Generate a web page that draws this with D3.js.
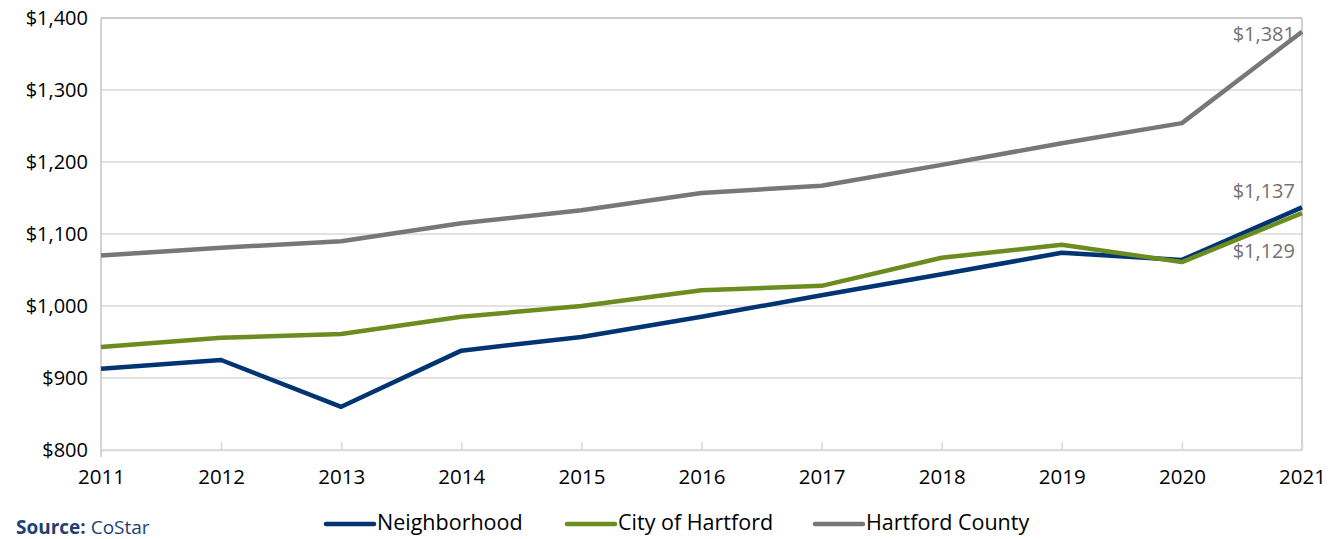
<!DOCTYPE html>
<html>
<head>
<meta charset="utf-8">
<script src="https://cdn.jsdelivr.net/npm/d3@7"></script>
<style>
  html, body { margin: 0; padding: 0; background: #fff; }
  svg { display: block; font-family: "Open Sans", "Noto Sans", sans-serif; }
</style>
</head>
<body>
<svg id="chart" width="1336" height="539"></svg>
<script>
// Average asking rent by year
const years = [2011, 2012, 2013, 2014, 2015, 2016, 2017, 2018, 2019, 2020, 2021];
const neighborhood = [913, 925, 860, 938, 957, 985, 1015, 1044, 1074, 1064, 1137];
const cityOfHartford = [943, 956, 961, 985, 1000, 1022, 1028, 1067, 1085, 1061, 1129];
const hartfordCounty = [1070, 1081, 1090, 1115, 1133, 1157, 1167, 1196, 1226, 1254, 1381];
const yTicks = [800, 900, 1000, 1100, 1200, 1300, 1400];

const seriesList = [
  { name: "Neighborhood", values: neighborhood, color: "#003473" },
  { name: "City of Hartford", values: cityOfHartford, color: "#6B8C1E" },
  { name: "Hartford County", values: hartfordCounty, color: "#7A7677" }
];

const svg = d3.select("#chart");
const margin = { left: 101, right: 34, top: 18, bottom: 89 };
const W = 1336, H = 539;
const x = d3.scaleLinear().domain([2011, 2021]).range([margin.left, W - margin.right]);
const y = d3.scaleLinear().domain([800, 1400]).range([H - margin.bottom, margin.top]);
const money = d3.format("$,");

// horizontal gridlines
svg.append("g")
  .selectAll("line")
  .data(yTicks)
  .join("line")
  .attr("x1", x(2011)).attr("x2", x(2021))
  .attr("y1", d => y(d)).attr("y2", d => y(d))
  .attr("stroke", "#d9d9d9").attr("stroke-width", 1.5);

// plot frame: top, right, left
svg.append("line").attr("x1", x(2011)).attr("x2", x(2021)).attr("y1", y(1400)).attr("y2", y(1400))
  .attr("stroke", "#c4c4c4").attr("stroke-width", 1.5);
svg.append("line").attr("x1", x(2021)).attr("x2", x(2021)).attr("y1", y(1400)).attr("y2", y(800))
  .attr("stroke", "#c4c4c4").attr("stroke-width", 1.5);
svg.append("line").attr("x1", x(2011)).attr("x2", x(2011)).attr("y1", y(1400)).attr("y2", y(800) + 7)
  .attr("stroke", "#c4c4c4").attr("stroke-width", 1.5);

// y axis labels
const yAxis = d3.axisLeft(y).tickValues(yTicks).tickFormat(money).tickSize(0).tickPadding(13);
const gy = svg.append("g").attr("transform", `translate(${x(2011)},0)`).call(yAxis);
gy.select(".domain").remove();
gy.selectAll("text").attr("font-size", 20).attr("fill", "#000").attr("font-family", "Open Sans, Noto Sans, sans-serif");

// x axis with inward ticks
const xAxis = d3.axisBottom(x).tickValues(years).tickFormat(d3.format("d")).tickSizeInner(-8).tickSizeOuter(0).tickPadding(19);
const gx = svg.append("g").attr("transform", `translate(0,${y(800)})`).call(xAxis);
gx.select(".domain").attr("stroke", "#d9d9d9").attr("stroke-width", 1.5);
gx.selectAll(".tick line").attr("stroke", "#d9d9d9").attr("stroke-width", 1.5);
gx.selectAll("text").attr("font-size", 20.5).attr("fill", "#000").attr("font-family", "Open Sans, Noto Sans, sans-serif");

// series lines
const line = d3.line().x((d, i) => x(years[i])).y(d => y(d));
svg.append("g")
  .selectAll("path")
  .data(seriesList)
  .join("path")
  .attr("d", d => line(d.values))
  .attr("fill", "none")
  .attr("stroke", d => d.color)
  .attr("stroke-width", 4.5)
  .attr("stroke-linejoin", "round");

// end-of-series value labels
const last = years.length - 1;
const endLabels = [
  { v: hartfordCounty[last], dy: 4 },
  { v: neighborhood[last], dy: -15 },
  { v: cityOfHartford[last], dy: 40 }
];
svg.append("g")
  .selectAll("text")
  .data(endLabels)
  .join("text")
  .attr("x", x(2021) - 7)
  .attr("y", d => y(d.v) + d.dy)
  .attr("text-anchor", "end")
  .attr("dominant-baseline", "middle")
  .attr("font-size", 20)
  .attr("fill", "#757171")
  .text(d => money(d.v));

// legend
const legendX = [326, 567, 815];
const lg = svg.append("g");
seriesList.forEach((s, i) => {
  lg.append("line")
    .attr("x1", legendX[i]).attr("x2", legendX[i] + 48)
    .attr("y1", 524).attr("y2", 524)
    .attr("stroke", s.color).attr("stroke-width", 4.5).attr("stroke-linecap", "round");
  lg.append("text")
    .attr("x", legendX[i] + 51).attr("y", 524)
    .attr("dominant-baseline", "middle")
    .attr("font-size", 21.5).attr("fill", "#000")
    .text(s.name);
});

// source note
const src = svg.append("text").attr("x", 16).attr("y", 534).attr("font-size", 19).attr("fill", "#1F3F73");
src.append("tspan").attr("font-weight", "bold").text("Source:");
src.append("tspan").text(" CoStar");
</script>
</body>
</html>
